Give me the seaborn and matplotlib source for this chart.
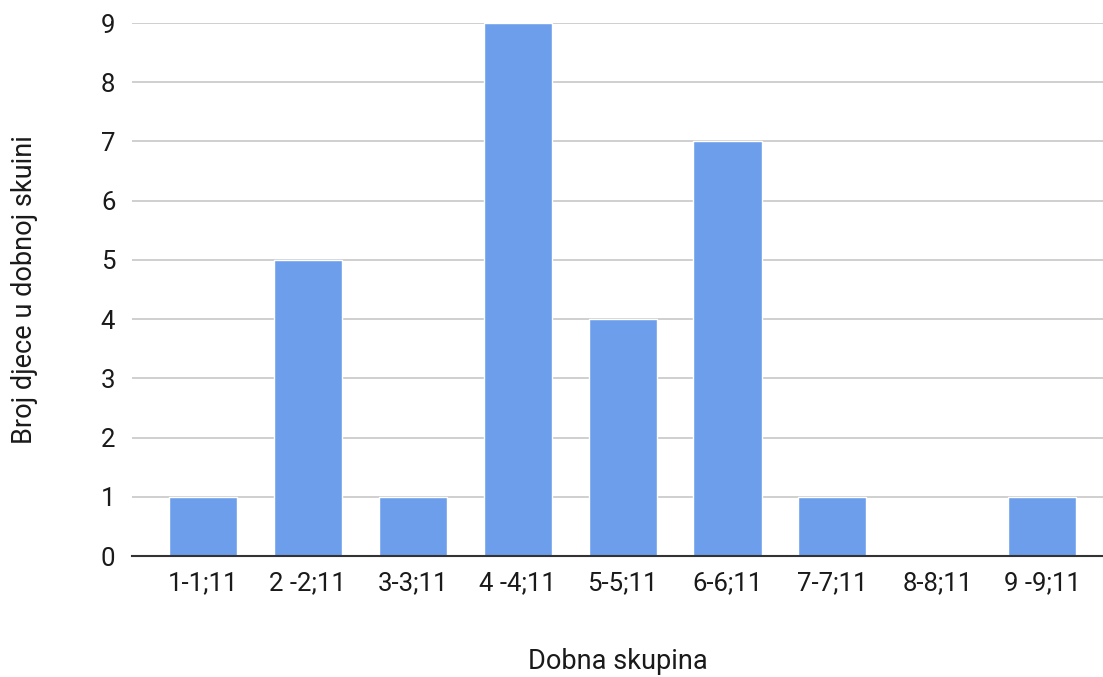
import matplotlib
matplotlib.use("Agg")
import matplotlib.pyplot as plt
import seaborn as sns
import pandas as pd

# podaci
dobne_skupine = ["1-1;11", "2 -2;11", "3-3;11", "4 -4;11", "5-5;11",
                 "6-6;11", "7-7;11", "8-8;11", "9 -9;11"]
broj_djece = [1, 5, 1, 9, 4, 7, 1, 0, 1]

df = pd.DataFrame({"Dobna skupina": dobne_skupine, "Broj": broj_djece})

sns.set_theme(style="white")
plt.rcParams["font.family"] = ["Roboto", "DejaVu Sans"]

fig = plt.figure(figsize=(11.03, 6.77), dpi=100)
ax = fig.add_axes([0.1197, 0.1787, 0.8803, 0.7873])

sns.barplot(data=df, x="Dobna skupina", y="Broj", color="#6d9eeb",
            saturation=1, width=0.65, ax=ax, zorder=3)

ax.set_xlim(-0.677, 8.58)
ax.set_ylim(0, 9)
ax.set_yticks(range(0, 10))

# mreza
ax.grid(axis="y", color="#cccccc", linewidth=1.3, zorder=0)
ax.grid(axis="x", visible=False)
for side in ["top", "right", "left"]:
    ax.spines[side].set_visible(False)
ax.spines["bottom"].set_color("#333333")
ax.spines["bottom"].set_linewidth(1.5)
ax.spines["bottom"].set_zorder(4)

ax.tick_params(axis="both", length=0, labelsize=18.5, colors="#1a1a1a")
ax.tick_params(axis="y", pad=12)
ax.tick_params(axis="x", pad=11)

ax.set_xlabel("Dobna skupina", fontsize=19.5, color="#1a1a1a", labelpad=38)
ax.set_ylabel("Broj djece u dobnoj skuini", fontsize=19.5, color="#1a1a1a", labelpad=45)

fig.savefig("out.png", dpi=100)
